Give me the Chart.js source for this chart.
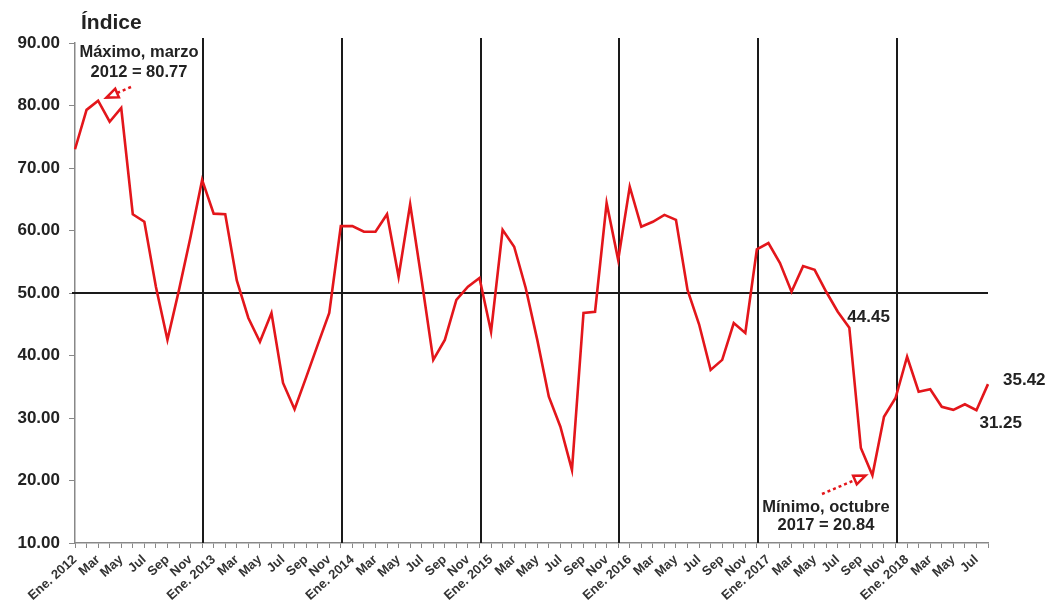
<!DOCTYPE html>
<html>
<head>
<meta charset="utf-8">
<script src="https://cdn.jsdelivr.net/npm/chart.js@4.4.1/dist/chart.umd.min.js"></script>
<style>
  html, body { margin: 0; padding: 0; background: #fff; }
  #wrap { width: 1052px; height: 607px; position: relative; }
</style>
</head>
<body>
<div id="wrap"><canvas id="indice-chart" width="1052" height="607"></canvas></div>
<script>
// months Jan 2012 .. Aug 2018
const monthNames = ['Ene.', 'Feb', 'Mar', 'Abr', 'May', 'Jun', 'Jul', 'Ago', 'Sep', 'Oct', 'Nov', 'Dic'];
const years = [2012, 2013, 2014, 2015, 2016, 2017, 2018];

const values2012 = [73.0, 79.3, 80.77, 77.4, 79.6, 62.6, 61.4, 51.0, 42.5, 50.5, 59.0, 68.1];
const values2013 = [62.7, 62.6, 52.0, 46.0, 42.2, 46.8, 35.6, 31.4, 36.5, 41.7, 46.8, 60.7];
const values2014 = [60.7, 59.8, 59.8, 62.6, 52.6, 64.2, 52.0, 39.3, 42.5, 48.9, 51.0, 52.4];
const values2015 = [43.8, 60.1, 57.4, 50.8, 42.5, 33.4, 28.6, 21.7, 46.8, 47.0, 64.4, 55.3];
const values2016 = [67.0, 60.6, 61.4, 62.5, 61.7, 50.5, 45.0, 37.7, 39.3, 45.2, 43.6, 57.0];
const values2017 = [58.0, 54.8, 50.2, 54.3, 53.7, 50.2, 47.0, 44.45, 25.2, 20.84, 30.2, 33.2];
const values2018 = [39.8, 34.2, 34.6, 31.8, 31.3, 32.2, 31.25, 35.42];

const yTicks = [10, 20, 30, 40, 50, 60, 70, 80, 90];
const refLevel = 50;
// year separators sit at the December points
const yearLines = [11.1, 23.1, 35.1, 47.1, 59.1, 71.1];

const indexValues = [].concat(values2012, values2013, values2014, values2015, values2016, values2017, values2018);
const labels = indexValues.map((v, i) => {
  const m = i % 12;
  const y = years[Math.floor(i / 12)];
  return m === 0 ? monthNames[m] + ' ' + y : monthNames[m];
});

// value labels next to some points (Aug 2017, Aug 2018, Jul 2018)
const pointNotes = [
  { idx: 67, text: '44.45', dx: -2, dy: -10 },
  { idx: 79, text: '35.42', dx: 15, dy: -4 },
  { idx: 78, text: '31.25', dx: 3, dy: 13 }
];

const overlay = {
  id: 'overlay',
  beforeDatasetsDraw(chart) {
    const { ctx, chartArea, scales } = chart;
    const x = scales.x, y = scales.y;
    ctx.save();
    ctx.strokeStyle = '#1a1a1a';
    ctx.lineWidth = 2;
    yearLines.forEach((v) => {
      const px = Math.round(x.getPixelForValue(v));
      ctx.beginPath();
      ctx.moveTo(px, chartArea.top - 5);
      ctx.lineTo(px, chartArea.bottom);
      ctx.stroke();
    });
    const py = Math.round(y.getPixelForValue(refLevel));
    ctx.beginPath();
    ctx.moveTo(chartArea.left - 3, py);
    ctx.lineTo(chartArea.right, py);
    ctx.stroke();
    ctx.restore();
  },
  afterDraw(chart) {
    const { ctx, scales } = chart;
    const x = scales.x, y = scales.y;
    ctx.save();
    ctx.fillStyle = '#222';
    ctx.font = 'bold 21px "Liberation Sans", Arial, sans-serif';
    ctx.textAlign = 'left';
    ctx.textBaseline = 'alphabetic';
    ctx.fillText('Índice', 81, 29);

    ctx.font = 'bold 16.5px "Liberation Sans", Arial, sans-serif';
    ctx.textAlign = 'center';
    ctx.textBaseline = 'middle';
    ctx.fillText('Máximo, marzo', 139, 52);
    ctx.fillText('2012 = 80.77', 139, 72);
    ctx.fillText('Mínimo, octubre', 826, 507);
    ctx.fillText('2017 = 20.84', 826, 525);

    ctx.font = 'bold 17px "Liberation Sans", Arial, sans-serif';
    ctx.textAlign = 'left';
    pointNotes.forEach((n) => {
      const px = x.getPixelForValue(n.idx);
      const py = y.getPixelForValue(indexValues[n.idx]);
      ctx.fillText(n.text, px + n.dx, py + n.dy);
    });

    // dotted arrows
    const arrow = (x1, y1, x2, y2) => {
      ctx.strokeStyle = '#e3161b';
      ctx.lineWidth = 2.5;
      ctx.setLineDash([3, 3]);
      ctx.beginPath();
      ctx.moveTo(x1, y1);
      ctx.lineTo(x2, y2);
      ctx.stroke();
      ctx.setLineDash([]);
      const a = Math.atan2(y2 - y1, x2 - x1);
      ctx.beginPath();
      ctx.moveTo(x2 + 4 * Math.cos(a), y2 + 4 * Math.sin(a));
      ctx.lineTo(x2 - 9 * Math.cos(a - 0.55), y2 - 9 * Math.sin(a - 0.55));
      ctx.lineTo(x2 - 9 * Math.cos(a + 0.55), y2 - 9 * Math.sin(a + 0.55));
      ctx.closePath();
      ctx.fillStyle = '#fff';
      ctx.fill();
      ctx.stroke();
    };
    arrow(131, 87, 110, 96);
    arrow(822, 494, 862, 477);
    ctx.restore();
  }
};

new Chart(document.getElementById('indice-chart'), {
  type: 'line',
  data: {
    labels: labels,
    datasets: [
      {
        label: 'Índice',
        data: indexValues,
        borderColor: '#e3161b',
        borderWidth: 2.6,
        pointRadius: 0,
        tension: 0,
        fill: false,
      },
    ],
  },
  options: {
    responsive: false,
    animation: false,
    devicePixelRatio: 1,
    layout: { padding: { left: 0, top: 43, right: 64, bottom: 0 } },
    plugins: {
      legend: { display: false },
      tooltip: { enabled: false },
    },
    scales: {
      x: {
        type: 'category',
        offset: false,
        afterFit: (scale) => { scale.height = 64; },
        grid: {
          drawOnChartArea: false,
          color: '#888',
          tickLength: 5,
        },
        border: { color: '#888', width: 1.5 },
        ticks: {
          autoSkip: false,
          maxRotation: 42,
          minRotation: 42,
          color: '#333',
          padding: 4,
          font: { family: '"Liberation Sans", Arial, sans-serif', size: 13, weight: 'bold' },
          callback: (val, i) => (i % 2 === 0 ? labels[i] : ''),
        },
      },
      y: {
        min: yTicks[0],
        max: yTicks[yTicks.length - 1],
        afterFit: (scale) => { scale.width = 75; },
        afterBuildTicks: (scale) => { scale.ticks = yTicks.map((v) => ({ value: v })); },
        grid: {
          drawOnChartArea: false,
          color: '#888',
          tickLength: 6,
        },
        border: { color: '#888', width: 1.5 },
        ticks: {
          color: '#222',
          padding: 9,
          font: { family: '"Liberation Sans", Arial, sans-serif', size: 17, weight: 'bold' },
          callback: (v) => Number(v).toFixed(2),
        },
      },
    },
  },
  plugins: [overlay],
});
</script>
</body>
</html>
